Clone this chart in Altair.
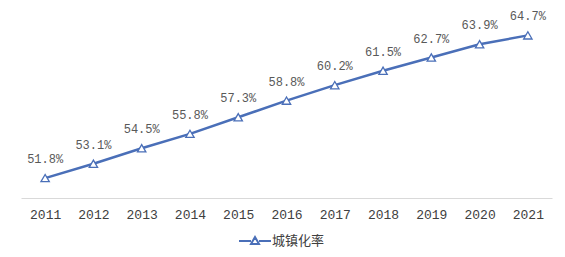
import altair as alt
import pandas as pd

years = ["2011", "2012", "2013", "2014", "2015", "2016", "2017", "2018", "2019", "2020", "2021"]
rates = [51.8, 53.1, 54.5, 55.8, 57.3, 58.8, 60.2, 61.5, 62.7, 63.9, 64.7]
labels = ["51.8%", "53.1%", "54.5%", "55.8%", "57.3%", "58.8%", "60.2%", "61.5%", "62.7%", "63.9%", "64.7%"]
series = "城镇化率"

df = pd.DataFrame({"year": years, "rate": rates, "label": labels, "series": [series] * len(years)})

BLUE = "#4A6FB8"

x = alt.X("year:O", scale=alt.Scale(type="point", padding=0.5),
          axis=alt.Axis(title=None, labelAngle=0, ticks=False, domainColor="#d9d9d9",
                        domainWidth=1, labelFont="Liberation Mono", labelFontSize=13,
                        labelColor="#404040", labelPadding=10))
y = alt.Y("rate:Q", scale=alt.Scale(domain=[50, 66], nice=False, zero=False), axis=None)

legend_path = "M-1.6,0L-0.4,0M0.4,0L1.6,0M-0.4,0.3L0,-0.4L0.4,0.3Z"

line = alt.Chart(df).mark_line(strokeWidth=2.5).encode(
    x=x, y=y,
    color=alt.Color("series:N", scale=alt.Scale(range=[BLUE]),
                    legend=alt.Legend(title=None, orient="none", legendX=223, legendY=209,
                                      symbolType=legend_path, symbolSize=400,
                                      symbolStrokeColor=BLUE, symbolFillColor="white",
                                      symbolStrokeWidth=2, labelFont="Noto Sans CJK SC",
                                      labelFontSize=13, labelColor="#404040", labelOffset=6))
)

pts = alt.Chart(df).mark_point(shape="triangle-up", filled=True, fill="white", stroke=BLUE,
                               strokeWidth=1.3, size=70, opacity=1).encode(x=x, y=y)

txt = alt.Chart(df).mark_text(dy=-19, font="Liberation Mono", fontSize=12, color="#595959").encode(
    x=x, y=y, text="label:N")

chart = alt.layer(line, pts, txt).properties(
    width=531, height=177,
    autosize=alt.AutoSizeParams(type="none"),
    padding={"left": 21, "top": 21, "right": 13, "bottom": 59},
    background="white",
).configure_view(stroke=None)

chart.save("out.html", embed_options={"renderer": "svg", "actions": False})
